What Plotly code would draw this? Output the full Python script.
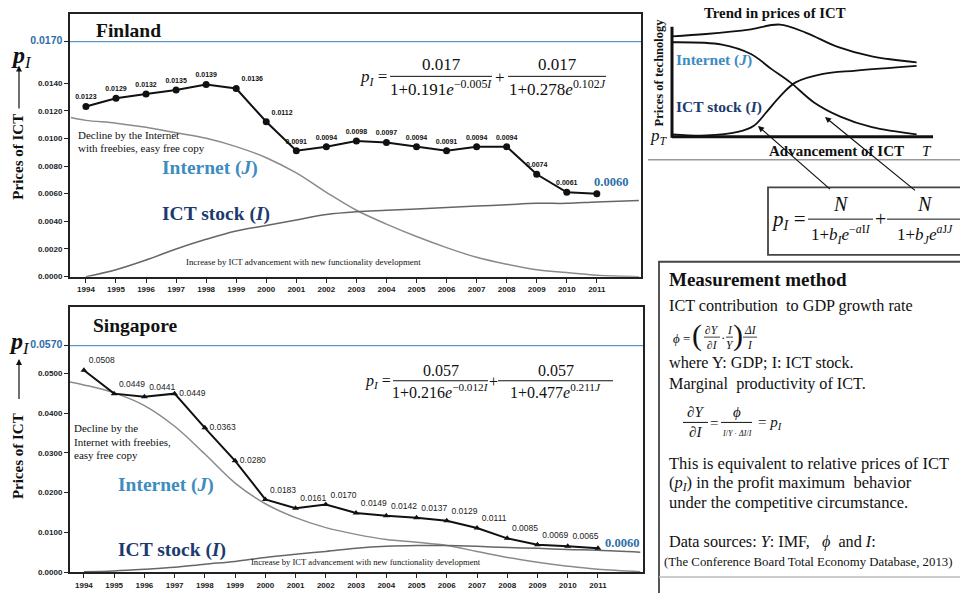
import plotly.graph_objects as go

# ---------------- data ----------------
years = list(range(1994, 2012))
fin_prices = [0.0123, 0.0129, 0.0132, 0.0135, 0.0139, 0.0136, 0.0112, 0.0091, 0.0094,
              0.0098, 0.0097, 0.0094, 0.0091, 0.0094, 0.0094, 0.0074, 0.0061, 0.0060]
sgp_prices = [0.0508, 0.0449, 0.0441, 0.0449, 0.0363, 0.0280, 0.0183, 0.0161, 0.0170,
              0.0149, 0.0142, 0.0137, 0.0129, 0.0111, 0.0085, 0.0069, 0.0065, 0.0060]

internet_years = [1993.5] + years + [2012.4]
fin_internet = [0.0115, 0.0113, 0.0111, 0.0108, 0.0104, 0.0100, 0.0094, 0.0086, 0.0075, 0.0061,
                0.0048, 0.0038, 0.0029, 0.0021, 0.0014, 0.0009, 0.0005, 0.0003, 0.0001, 0.0000]
ict_years = years + [2012.4]
fin_ict = [0.0000, 0.0005, 0.0012, 0.0020, 0.0027, 0.0033, 0.0037, 0.0041, 0.0045, 0.0047,
           0.0048, 0.0049, 0.0050, 0.0051, 0.0052, 0.0053, 0.0053, 0.0054, 0.0055]

sgp_internet = [0.0479, 0.0471, 0.0451, 0.0419, 0.0367, 0.0297, 0.0224, 0.0172, 0.0137, 0.0112,
                0.0095, 0.0082, 0.0075, 0.0067, 0.0052, 0.0037, 0.0025, 0.0015, 0.0007, 0.0001]
sgp_ict = [0.0001, 0.0003, 0.0007, 0.0012, 0.0020, 0.0027, 0.0037, 0.0045, 0.0052, 0.0060,
           0.0065, 0.0067, 0.0067, 0.0065, 0.0062, 0.0060, 0.0057, 0.0055, 0.0050]

fin_yticks = [0.0, 0.002, 0.004, 0.006, 0.008, 0.010, 0.012, 0.014]
fin_cap = 0.017
sgp_yticks = [0.0, 0.01, 0.02, 0.03, 0.04, 0.05]
sgp_cap = 0.057

# schematic (illustrative) curves, in 0-100 units
sch_top_x = [0, 13, 30, 41, 51, 63, 76, 93]
sch_top_y = [86, 88, 92, 96, 89, 77, 69, 64]
sch_int_x = [0, 19, 30, 38, 45, 54, 64, 76, 93]
sch_int_y = [81, 79, 71, 58, 47, 30, 18, 9, 3]
sch_ict_x = [0, 13, 25, 31, 36, 41, 47, 57, 70, 93]
sch_ict_y = [3, 2, 5, 10, 22, 35, 47, 54, 57, 61]

# ---------------- helpers ----------------
W, H = 960, 593
SERIF = "Liberation Serif, Times New Roman, serif"
SANS = "Liberation Sans Narrow, Arial Narrow, Liberation Sans, Arial, sans-serif"
BLUE = "#2f6ea8"
LBLUE = "#3d8cc0"
NAVY = "#1d3a6e"
CAPLINE = "#5d97c9"


def X(px):
    return px / W


def Y(py):
    return 1 - py / H


ann = []
shapes = []


def txt(px, py, s, size=14, color="#111", family=SERIF, xanchor="left", yanchor="middle", angle=0):
    ann.append(dict(x=X(px), y=Y(py), xref="paper", yref="paper", text=s, showarrow=False,
                    font=dict(size=size, color=color, family=family), xanchor=xanchor,
                    yanchor=yanchor, textangle=angle, borderpad=0))


def seg(x0, y0, x1, y1, color="#222", width=1.5):
    shapes.append(dict(type="line", xref="paper", yref="paper", x0=X(x0), y0=Y(y0), x1=X(x1), y1=Y(y1),
                       line=dict(color=color, width=width)))


def rect(x0, y0, x1, y1, color="#333", width=1.5):
    shapes.append(dict(type="rect", xref="paper", yref="paper", x0=X(x0), y0=Y(y0), x1=X(x1), y1=Y(y1),
                       line=dict(color=color, width=width), fillcolor="rgba(0,0,0,0)"))


def frac(x0, x1, bar_y, num, den, size, gap, width=1, dsize=None):
    cx = (x0 + x1) / 2
    txt(cx, bar_y - gap, num, size=size, xanchor="center")
    txt(cx, bar_y + gap, den, size=dsize or size, xanchor="center")
    seg(x0, bar_y, x1, bar_y, color="#111", width=width)


def arrow(hx, hy, tx, ty, width=1.2):
    ann.append(dict(x=X(hx), y=Y(hy), xref="paper", yref="paper", ax=tx - hx, ay=ty - hy,
                    axref="pixel", ayref="pixel", showarrow=True, arrowhead=2, arrowsize=1,
                    arrowwidth=width, arrowcolor="#111", text=" ", font=dict(size=2)))


fig = go.Figure()

# ---------------- Finland ----------------
fig.add_trace(go.Scatter(x=internet_years, y=fin_internet, mode="lines", line=dict(color="#8a8a8a", width=1.5, shape="spline"),
                         xaxis="x", yaxis="y", hoverinfo="skip"))
fig.add_trace(go.Scatter(x=ict_years, y=fin_ict, mode="lines", line=dict(color="#666", width=1.5, shape="spline"),
                         xaxis="x", yaxis="y", hoverinfo="skip"))
fig.add_trace(go.Scatter(x=[1993.47, 2012.47], y=[fin_cap, fin_cap], mode="lines",
                         line=dict(color=CAPLINE, width=1.2), xaxis="x", yaxis="y", hoverinfo="skip"))
fin_text = [f"{v:.4f}" for v in fin_prices[:-1]] + [""]
fin_pos = ["top center"] * len(years)
for i, yr in enumerate(years):
    if yr in (1999, 2000):
        fin_pos[i] = "top right"
fig.add_trace(go.Scatter(x=years, y=fin_prices, mode="lines+markers+text", text=fin_text, textposition=fin_pos,
                         textfont=dict(size=7, color="#111", family=SANS, weight="bold"),
                         line=dict(color="#111", width=2), marker=dict(color="#111", size=7, symbol="circle"),
                         xaxis="x", yaxis="y"))
ann.append(dict(x=years[-1], y=fin_prices[-1], xref="x", yref="y", text=f"<b>{fin_prices[-1]:.4f}</b>",
                showarrow=False, xshift=14, yshift=12, font=dict(size=12.5, color=BLUE, family=SERIF)))

# ---------------- Singapore ----------------
fig.add_trace(go.Scatter(x=internet_years, y=sgp_internet, mode="lines", line=dict(color="#8a8a8a", width=1.5, shape="spline"),
                         xaxis="x2", yaxis="y2", hoverinfo="skip"))
fig.add_trace(go.Scatter(x=ict_years, y=sgp_ict, mode="lines", line=dict(color="#666", width=1.5, shape="spline"),
                         xaxis="x2", yaxis="y2", hoverinfo="skip"))
fig.add_trace(go.Scatter(x=[1993.54, 2012.49], y=[sgp_cap, sgp_cap], mode="lines",
                         line=dict(color=CAPLINE, width=1.2), xaxis="x2", yaxis="y2", hoverinfo="skip"))
sgp_text = [f"{v:.4f}" for v in sgp_prices[:-1]] + [""]
sgp_pos = ["top right"] * len(years)
for i, yr in enumerate(years):
    if yr in (1997, 1998, 1999):
        sgp_pos[i] = "middle right"
fig.add_trace(go.Scatter(x=years, y=sgp_prices, mode="lines+markers+text", text=sgp_text, textposition=sgp_pos,
                         textfont=dict(size=8.5, color="#222", family="Liberation Sans, Arial, sans-serif"),
                         line=dict(color="#111", width=2), marker=dict(color="#111", size=6, symbol="triangle-up"),
                         xaxis="x2", yaxis="y2"))
ann.append(dict(x=years[-1], y=sgp_prices[-1], xref="x2", yref="y2", text=f"<b>{sgp_prices[-1]:.4f}</b>",
                showarrow=False, xshift=24, yshift=5, font=dict(size=12.5, color=BLUE, family=SERIF)))

# ---------------- schematic ----------------
for xs, ys in ((sch_top_x, sch_top_y), (sch_int_x, sch_int_y), (sch_ict_x, sch_ict_y)):
    fig.add_trace(go.Scatter(x=xs, y=ys, mode="lines", line=dict(color="#111", width=1.8, shape="spline"),
                             xaxis="x3", yaxis="y3", hoverinfo="skip"))


def ytext(vals, cap):
    fmt = [f"{v:.4f}" for v in vals]
    fmt.append(f'<span style="color:{BLUE};font-size:10.5px">{cap:.4f}</span>')
    return vals + [cap], fmt


fy_vals, fy_text = ytext(fin_yticks, fin_cap)
sy_vals, sy_text = ytext(sgp_yticks, sgp_cap)

axis_common = dict(showgrid=False, zeroline=False, showline=True, linecolor="#222", linewidth=2,
                   mirror=True, ticks="outside", ticklen=4, tickwidth=1.2, tickcolor="#222",
                   tickfont=dict(size=8, color="#222", family=SANS))

fig.update_layout(
    width=W, height=H, autosize=False,
    margin=dict(l=0, r=0, t=0, b=0, pad=0),
    paper_bgcolor="white", plot_bgcolor="white",
    showlegend=False,
    xaxis=dict(domain=[X(70), X(641)], range=[1993.47, 2012.47], tickvals=years,
               ticktext=[f"<b>{y}</b>" for y in years], anchor="y", **axis_common),
    yaxis=dict(domain=[Y(279), Y(14)], range=[0, 0.019], tickvals=fy_vals,
               ticktext=[f"<b>{t}</b>" for t in fy_text], anchor="x", **axis_common),
    xaxis2=dict(domain=[X(70), X(643)], range=[1993.54, 2012.49], tickvals=years,
                ticktext=[f"<b>{y}</b>" for y in years], anchor="y2", **axis_common),
    yaxis2=dict(domain=[Y(577), Y(310)], range=[0, 0.0666], tickvals=sy_vals,
                ticktext=[f"<b>{t}</b>" for t in sy_text], anchor="x2", **axis_common),
    xaxis3=dict(domain=[X(672), X(935)], range=[0, 100], visible=False, anchor="y3"),
    yaxis3=dict(domain=[Y(139), Y(20)], range=[0, 100], visible=False, anchor="x3"),
)

# ---------- Finland annotations ----------
txt(95, 31, "<b>Finland</b>", size=19.5)
txt(10, 57, "<b><i>p</i></b><i><sub>I</sub></i>", size=24)
txt(18, 158, "<b>Prices of ICT</b>", size=15, xanchor="center", angle=-90)
arrow(19, 66, 19, 112, width=1.2)
txt(77, 136, "Decline by the Internet", size=11)
txt(77, 149, "with freebies, easy free copy", size=11)
txt(161, 169, "<b>Internet (<i>J</i>)</b>", size=19.5, color=LBLUE)
txt(161, 216, "<b>ICT stock (<i>I</i>)</b>", size=19.5, color=NAVY)
txt(185, 264, "Increase by ICT advancement with new functionality development", size=8.8)
txt(388, 79, "<i>p<sub>I</sub></i> =", size=17, xanchor="right")
frac(390, 492, 77, "0.017", "1+0.191<i>e</i><sup>−0.005<i>I</i></sup>", 17, 12)
txt(500, 78, "+", size=17, xanchor="center")
frac(508, 606, 77, "0.017", "1+0.278<i>e</i><sup>0.102<i>J</i></sup>", 17, 12)

# ---------- Singapore annotations ----------
txt(92, 328, "<b>Singapore</b>", size=19.5)
txt(8, 346, "<b><i>p</i></b><i><sub>I</sub></i>", size=24)
txt(18, 460, "<b>Prices of ICT</b>", size=15, xanchor="center", angle=-90)
arrow(19, 362, 19, 405, width=1.2)
txt(73, 432, "Decline by the", size=11)
txt(73, 446, "Internet with freebies,", size=11)
txt(73, 459, "easy free copy", size=11)
txt(117, 489, "<b>Internet (<i>J</i>)</b>", size=19.5, color=LBLUE)
txt(117, 555, "<b>ICT stock (<i>I</i>)</b>", size=19.5, color=NAVY)
txt(250, 567, "Increase by ICT advancement with new functionality development", size=8.6)
txt(392, 385, "<i>p<sub>I</sub></i> =", size=16, xanchor="right")
frac(393, 488, 384, "0.057", "1+0.216<i>e</i><sup>−0.012<i>I</i></sup>", 16, 10)
txt(493, 385, "+", size=16, xanchor="center")
frac(498, 613, 384, "0.057", "1+0.477<i>e</i><sup>0.211<i>J</i></sup>", 16, 10)

# ---------- schematic annotations ----------
txt(775, 13, "<b>Trend in prices of ICT</b>", size=14.8, xanchor="center")
txt(659, 73, "<b>Prices of technology</b>", size=12.5, xanchor="center", angle=-90)
seg(672, 27, 672, 139, color="#111", width=3)
seg(672, 138, 933, 138, color="#111", width=3)
txt(649, 138, "<i>p<sub>T</sub></i>", size=17)
txt(836, 152, "<b>Advancement of ICT</b>", size=15, xanchor="center")
txt(927, 152, "<i>T</i>", size=15, xanchor="center")
txt(675, 61, "<b>Internet (<i>J</i>)</b>", size=15.5, color=LBLUE)
txt(675, 108, "<b>ICT stock (<i>I</i>)</b>", size=15.5, color=NAVY)
seg(648, 161, 960, 161, color="#999", width=1.5)
arrow(758, 127, 832, 192, width=1.2)
arrow(825, 118, 917, 193, width=1.2)

# formula box
rect(768, 189, 962, 257, color="#444", width=1.8)
txt(807, 222, "<i>p<sub>I</sub></i> =", size=21, xanchor="right")
frac(808, 873, 221, "<i>N</i>", "1+<i>b<sub>I</sub>e</i><sup>−<i>a</i>I<i>I</i></sup>", 20, 15, dsize=17)
txt(880, 221, "+", size=20, xanchor="center")
frac(887, 962, 221, "<i>N</i>", "1+<i>b<sub>J</sub>e</i><sup><i>a</i>J<i>J</i></sup>", 20, 15, dsize=17)

# measurement box
shapes.append(dict(type="path", xref="paper", yref="paper",
                   path=f"M {X(962)},{Y(264)} L {X(659)},{Y(264)} L {X(659)},{Y(600)}",
                   line=dict(color="#444", width=1.8)))
seg(659, 582, 962, 582, color="#bbb", width=1.5)
BODY = 16.2
txt(668, 282, "<b>Measurement method</b>", size=19)
txt(668, 309, "ICT contribution  to GDP growth rate", size=BODY)
# phi formula
txt(672, 341, "<i>ϕ</i> =", size=13)
txt(697, 338, "(", size=30, xanchor="center")
frac(704, 720, 340, "<i>∂Y</i>", "<i>∂I</i>", 11.5, 7.5, width=0.8)
txt(723, 340, "·", size=13, xanchor="center")
frac(726, 733, 340, "<i>I</i>", "<i>Y</i>", 11.5, 7.5, width=0.8)
txt(738, 338, ")", size=30, xanchor="center")
frac(743, 757, 340, "<i>ΔI</i>", "<i>I</i>", 11.5, 7.5, width=0.8)
txt(668, 366, "where Y: GDP; I: ICT stock.", size=BODY)
txt(668, 387, "Marginal  productivity of ICT.", size=BODY)
# marginal productivity formula
frac(683, 708, 426, "<i>∂Y</i>", "<i>∂I</i>", 15, 10, width=1)
txt(714, 427, "=", size=15, xanchor="center")
frac(721, 752, 426, "<i>ϕ</i>", "<span style='font-size:8px'><i>I</i>/<i>Y</i> · <i>ΔI</i>/<i>I</i></span>", 15, 11, width=1)
txt(757, 427, "= <i>p<sub>I</sub></i>", size=15)
txt(668, 467, "This is equivalent to relative prices of ICT", size=16.5)
txt(668, 487, "(<i>p<sub>I</sub></i>) in the profit maximum  behavior", size=16.5)
txt(668, 507, "under the competitive circumstance.", size=16.5)
txt(668, 547, "Data sources: <i>Y</i>: IMF,   <i>ϕ</i>  and <i>I</i>:", size=BODY)
txt(663, 567, "(The Conference Board Total Economy Database, 2013)", size=12.8)

fig.update_layout(annotations=ann, shapes=shapes)
fig.write_html("out.html")
